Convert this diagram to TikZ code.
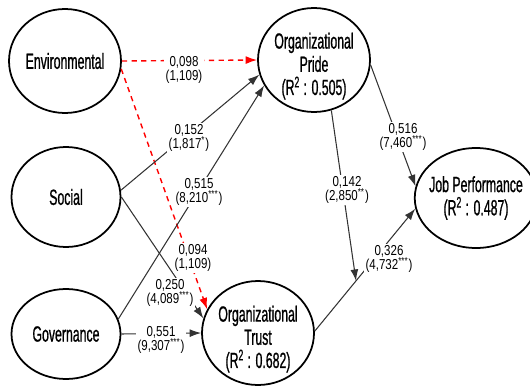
\documentclass[tikz,border=0pt]{standalone}
\usepackage{fontspec}
\setmainfont{Liberation Sans}
\newfontfamily\nodefont[FakeStretch=0.56, FakeBold=0.8]{Liberation Sans}
\newfontfamily\labfont[FakeStretch=0.8]{Liberation Sans}
\usetikzlibrary{shapes.geometric, arrows.meta}

\begin{document}
\begin{tikzpicture}[x=0.02cm, y=-0.02cm]

\tikzstyle{construct} = [ellipse, draw, line width=1pt, inner sep=-2pt, align=center, font=\nodefont\fontsize{12.5}{13.2}\selectfont]
\tikzstyle{connector} = [draw, black!80, line width=0.6pt, -{Latex[length=6.5pt, width=4.5pt]}]
\tikzstyle{insig} = [draw, red, line width=0.8pt, dash pattern=on 3pt off 2.5pt, -{Latex[length=6.5pt, width=4.5pt]}]
\tikzstyle{coef} = [fill=white, inner sep=0.8pt, align=center, font=\labfont\fontsize{8.2}{8}\selectfont]

\useasboundingbox (0,0) rectangle (530,385);

% constructs
\node [construct, minimum width=112*0.02cm, minimum height=104*0.02cm] at (65,61) (env) {Environmental};
\node [construct, minimum width=109*0.02cm, minimum height=100*0.02cm] at (66,197) (soc) {Social};
\node [construct, minimum width=109*0.02cm, minimum height=90*0.02cm] at (66,334) (gov) {Governance};
\node [construct, minimum width=112*0.02cm, minimum height=104*0.02cm] at (314,60) (pride) {\rule{0pt}{16pt}Organizational\\Pride\\(R\textsuperscript{2} : 0.505)};
\node [construct, minimum width=112*0.02cm, minimum height=104*0.02cm] at (258,333) (trust) {\rule{0pt}{16pt}Organizational\\Trust\\(R\textsuperscript{2} : 0.682)};
\node [construct, minimum width=108*0.02cm, minimum height=100*0.02cm] at (476,198) (jp) {Job Performance\\(R\textsuperscript{2} : 0.487)};

% paths
\path [insig] (env.east) -- (pride.west);
\path [insig] (env.-8) -- (trust.155);
\path [connector] (soc.7) -- (pride.195);
\path [connector] (gov.16) -- (pride.207);
\path [connector] (soc.east) -- (trust.165);
\path [connector] (gov.east) -- (trust.west);
\path [connector] (pride.-5) -- (jp.169);
\path [connector] (trust.2) -- coordinate[pos=0.41] (med) (jp.190);
\path [connector] (pride.-71) -- (med);

% coefficients
\node [coef] at (184,70) (c_ep) {0,098\\(1,109)};
\node [coef] at (193,258) (c_et) {0,094\\(1,109)};
\node [coef] at (189,138) (c_sp) {0,152\\(1,817\textsuperscript{*})};
\node [coef] at (199,192) (c_gp) {0,515\\(8,210\textsuperscript{***})};
\node [coef] at (170,293) (c_st) {0,250\\(4,089\textsuperscript{***})};
\node [coef] at (161,340) (c_gt) {0,551\\(9,307\textsuperscript{***})};
\node [coef] at (347,190) (c_pt) {0,142\\(2,850\textsuperscript{**})};
\node [coef] at (389,259) (c_tj) {0,326\\(4,732\textsuperscript{***})};
\node [coef] at (403,137) (c_pj) {0,516\\(7,460\textsuperscript{***})};

\end{tikzpicture}
\end{document}
